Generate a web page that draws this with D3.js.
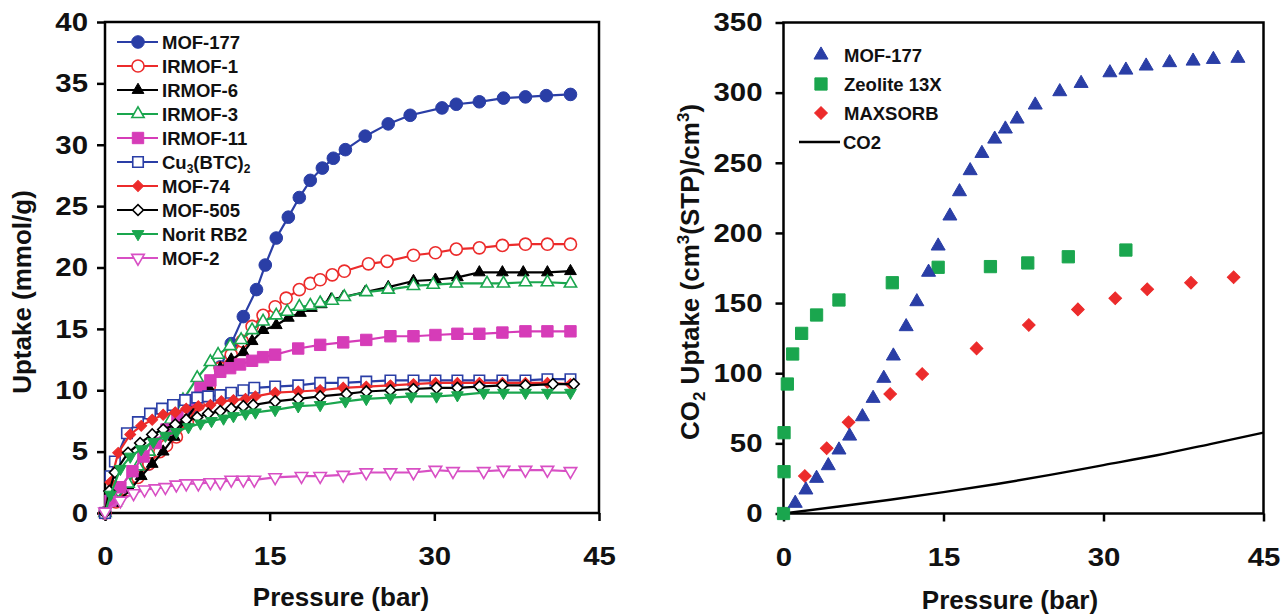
<!DOCTYPE html>
<html><head><meta charset="utf-8">
<script src="https://cdn.jsdelivr.net/npm/d3@7"></script>
<style>
body{margin:0;background:#fff}
text{font-family:'Liberation Sans',Arial,Helvetica,sans-serif;font-weight:bold;fill:#111}
</style>
</head><body>
<svg id="c" width="1284" height="616"></svg>
<script>
// ---------- Left panel data: [pressure (bar), uptake (mmol/g)] ----------
const mof177 = [[0,0],[2,1.9],[4,4.0],[6,6.2],[8,8.6],[10.5,11.9],[11.5,13.8],[12.6,16.0],[13.8,18.2],[14.6,20.2],[15.6,22.4],[16.7,24.1],[17.7,25.7],[18.7,27.1],[19.8,28.1],[20.8,28.9],[21.9,29.6],[23.7,30.7],[25.8,31.7],[27.8,32.4],[30.7,33.0],[32.0,33.3],[34.1,33.5],[36.3,33.8],[38.3,33.9],[40.2,34.0],[42.4,34.1]];
const irmof1 = [[0,0],[1,0.9],[2,1.9],[3,2.9],[4,4.0],[5,5.0],[5.6,5.5],[6.5,6.2],[7.5,7.4],[8.5,8.8],[9.5,10.3],[10.5,11.8],[11.5,12.9],[12.5,14.0],[13.4,15.2],[14.4,16.1],[15.5,16.8],[16.5,17.5],[17.7,18.2],[18.7,18.7],[19.6,19.0],[20.7,19.4],[21.8,19.7],[24.0,20.3],[25.7,20.5],[28.1,21.0],[30.1,21.2],[32.0,21.5],[34.1,21.6],[36.2,21.8],[38.3,21.9],[40.3,21.9],[42.4,21.9]];
const irmof6 = [[0,0],[1,0.8],[2.3,1.9],[3.3,3.0],[4.3,4.0],[5.3,5.0],[6.3,6.2],[7.3,7.5],[8.3,8.8],[9.4,10.3],[10.5,11.8],[11.5,12.5],[12.6,13.1],[13.4,14.0],[14.4,14.9],[15.6,15.3],[16.7,15.9],[17.8,16.3],[18.8,16.7],[19.7,17.0],[20.6,17.4],[21.7,17.6],[23.7,18.0],[25.8,18.4],[28.1,18.9],[30.1,19.0],[32.1,19.2],[34.1,19.6],[36.2,19.6],[38.1,19.6],[40.3,19.6],[42.4,19.7]];
const irmof3 = [[0,0],[1,1.0],[2.1,2.4],[3,3.8],[4,5.0],[5,6.3],[6,7.6],[7.1,9.2],[8.4,11.0],[9.6,12.3],[10.3,12.9],[11.4,13.6],[12.4,14.1],[13.4,14.9],[14.4,15.6],[15.6,16.1],[16.6,16.4],[17.7,16.8],[18.7,16.9],[19.6,17.1],[20.7,17.3],[21.8,17.6],[23.8,18.0],[25.8,18.2],[28.1,18.5],[29.9,18.6],[32.0,18.7],[34.8,18.7],[36.3,18.7],[38.3,18.8],[40.3,18.8],[42.4,18.7]];
const irmof11 = [[0,0],[0.5,1.0],[1.4,2.1],[2.5,3.4],[3.5,4.6],[4.6,5.7],[5.6,6.8],[6.6,7.9],[7.6,9.2],[8.7,10.2],[9.6,10.8],[10.5,11.5],[11.4,11.8],[12.3,12.1],[13.4,12.4],[14.4,12.7],[15.5,12.9],[17.6,13.4],[19.6,13.7],[21.7,13.9],[23.8,14.1],[26.0,14.4],[28.1,14.4],[30.1,14.5],[32.1,14.6],[34.1,14.6],[36.2,14.7],[38.3,14.8],[40.3,14.8],[42.4,14.8]];
const cu3btc2 = [[0,0],[0.5,3.0],[0.9,4.2],[2.0,6.5],[3.0,7.4],[4.1,8.1],[5.2,8.5],[6.2,8.8],[7.3,9.2],[8.4,9.4],[9.4,9.5],[10.5,9.6],[11.5,9.8],[12.6,10.0],[13.6,10.2],[15.5,10.3],[17.6,10.4],[19.6,10.6],[21.7,10.6],[23.8,10.7],[26.0,10.8],[28.1,10.8],[30.1,10.8],[32.1,10.8],[34.1,10.8],[36.2,10.8],[38.3,10.8],[40.3,10.9],[42.4,10.9]];
const mof74 = [[0,0],[0.5,2.5],[1.2,4.9],[2.3,6.4],[3.3,7.1],[4.3,7.6],[5.3,8.0],[6.4,8.2],[7.4,8.5],[8.5,8.7],[9.6,8.8],[10.6,9.1],[11.7,9.2],[12.8,9.3],[13.7,9.5],[15.5,9.8],[17.6,9.9],[19.6,10.0],[21.7,10.2],[23.8,10.3],[26.0,10.4],[28.1,10.5],[30.1,10.6],[32.1,10.6],[34.1,10.6],[36.2,10.6],[38.3,10.6],[40.3,10.6],[42.4,10.5]];
const mof505 = [[0,0],[0.4,1.8],[0.9,3.3],[2.1,4.9],[3.2,5.7],[4.3,6.4],[5.3,6.8],[6.4,7.2],[7.4,7.6],[8.4,7.8],[9.4,8.1],[10.5,8.3],[11.5,8.5],[12.6,8.7],[13.5,8.8],[15.5,9.1],[17.6,9.3],[19.6,9.5],[22.0,9.7],[23.8,9.9],[26.0,10.0],[28.1,10.1],[30.2,10.2],[32.1,10.2],[34.1,10.3],[36.2,10.4],[38.3,10.4],[40.8,10.5],[42.7,10.5]];
const noritRB2 = [[0,0],[0.5,1.5],[1.4,3.6],[2.3,4.6],[3.3,5.2],[4.4,5.8],[5.5,6.3],[6.5,6.6],[7.6,7.0],[8.7,7.3],[9.7,7.5],[10.8,7.7],[11.7,7.9],[12.8,8.1],[13.7,8.2],[15.5,8.4],[17.6,8.7],[19.6,8.8],[21.9,9.1],[23.8,9.3],[26.0,9.4],[27.9,9.5],[30.2,9.5],[32.1,9.6],[34.5,9.8],[36.3,9.8],[38.3,9.8],[40.3,9.8],[42.4,9.8]];
const mof2 = [[0,0.1],[1.4,1.0],[2.6,1.6],[3.6,1.9],[4.6,2.0],[5.5,2.1],[6.5,2.3],[7.4,2.4],[8.5,2.4],[9.6,2.5],[10.5,2.5],[11.5,2.7],[12.6,2.7],[13.6,2.7],[15.5,2.9],[17.9,3.0],[19.6,3.0],[21.7,3.1],[23.8,3.3],[26.0,3.3],[28.1,3.3],[30.1,3.5],[31.7,3.4],[34.5,3.4],[36.3,3.5],[38.3,3.5],[40.3,3.5],[42.4,3.4]];

const leftNames = ["MOF-177","IRMOF-1","IRMOF-6","IRMOF-3","IRMOF-11","Cu3(BTC)2","MOF-74","MOF-505","Norit RB2","MOF-2"];
const leftXTicks = [0,15,30,45];
const leftYTicks = [0,5,10,15,20,25,30,35,40];

// ---------- Right panel data: [pressure (bar), CO2 uptake (cm3(STP)/cm3)] ----------
const mof177CO2 = [[1.1,7.3],[2.1,16.8],[3.1,25.1],[4.2,34.1],[5.2,45.3],[6.2,55.2],[7.4,69.0],[8.4,82.1],[9.4,96.4],[10.3,112.3],[11.5,133.2],[12.5,151.0],[13.6,172.0],[14.5,190.7],[15.6,212.1],[16.5,229.4],[17.5,244.4],[18.6,256.7],[19.8,266.9],[20.8,274.1],[21.9,281.2],[23.6,291.2],[25.9,300.7],[27.9,306.6],[30.6,314.2],[32.1,316.1],[34.0,319.0],[36.2,321.4],[38.4,322.5],[40.3,323.7],[42.6,324.5]];
const zeolite13X = [[0,0],[0.05,29.8],[0.05,57.6],[0.36,92.3],[0.86,113.7],[1.7,128.4],[3.1,141.5],[5.2,152.2],[10.2,164.5],[14.5,175.5],[19.4,176.0],[22.9,178.6],[26.7,183.0],[32.1,187.8]];
const maxsorb = [[2.0,26.7],[4.05,46.5],[6.1,65.0],[10.0,85.2],[13.0,99.4],[18.1,117.7],[23.0,134.4],[27.6,145.5],[31.1,153.4],[34.1,159.8],[38.2,164.5],[42.2,168.4]];
const co2Pressure = [0,5,10,15,20,25,30,35,40,45];
const co2Density = [0,4.8,9.8,15.2,21.0,27.5,34.5,41.5,49.5,57.6];
const rightNames = ["MOF-177","Zeolite 13X","MAXSORB","CO2"];
const rightXTicks = [0,15,30,45];
const rightYTicks = [0,50,100,150,200,250,300,350];

// ---------- drawing ----------
const svg = d3.select("#c");
const BLUE="#2a3ea6", RED="#ec2b2b", BLACK="#000", GREEN="#1aa64e", MAG="#d63cb8", PINK="#d84fc4";

const xL = d3.scaleLinear().domain([0,45]).range([105,599]);
const yL = d3.scaleLinear().domain([0,40]).range([513,22]);
const xR = d3.scaleLinear().domain([0,45]).range([783.5,1263.5]);
const yR = d3.scaleLinear().domain([0,350]).range([513.5,22.5]);

function axes(x, y, xt, yt, ypad){
  const gx = svg.append("g").attr("transform",`translate(0,${y.range()[0]})`)
    .call(d3.axisBottom(x).tickValues(xt).tickSize(8).tickSizeOuter(0).tickPadding(26));
  const gy = svg.append("g").attr("transform",`translate(${x.range()[0]},0)`)
    .call(d3.axisLeft(y).tickValues(yt).tickSize(8).tickSizeOuter(0).tickPadding(ypad));
  [gx,gy].forEach(g=>{
    g.selectAll("path.domain").remove();
    g.selectAll(".tick line").attr("stroke","#000").attr("stroke-width",2.5);
    g.selectAll(".tick text").attr("font-size",26).attr("fill","#111")
      .attr("font-family","'Liberation Sans',Arial,sans-serif").attr("font-weight","bold")
      .each(function(){
        const L = this.getComputedTextLength();
        d3.select(this).attr("textLength", L*1.13).attr("lengthAdjust","spacingAndGlyphs");
      });
  });
  svg.append("rect").attr("x",x.range()[0]).attr("y",y.range()[1])
    .attr("width",x.range()[1]-x.range()[0]).attr("height",y.range()[0]-y.range()[1])
    .attr("fill","none").attr("stroke","#000").attr("stroke-width",2.5);
}

const symMap = {circle:d3.symbolCircle, tri:d3.symbolTriangle, square:d3.symbolSquare, diamond:d3.symbolSquare, down:d3.symbolTriangle};
function marker(g, type, size, color, filled, x, y){
  const rot = type==="down" ? " rotate(180)" : (type==="diamond" ? " rotate(45)" : "");
  g.append("path").attr("d", d3.symbol().type(symMap[type]).size(size)())
    .attr("transform",`translate(${x},${y})${rot}`)
    .attr("fill", filled?color:"#fff").attr("stroke", color).attr("stroke-width", filled?1:1.6);
}

axes(xL,yL,leftXTicks,leftYTicks,9);
axes(xR,yR,rightXTicks,rightYTicks,13);

// left series
const leftSeries = [
  {d:mof177, c:BLUE, t:"circle", f:true, s:125},
  {d:irmof1, c:RED, t:"circle", f:false, s:115},
  {d:irmof6, c:BLACK, t:"tri", f:true, s:60},
  {d:irmof3, c:GREEN, t:"tri", f:false, s:65},
  {d:irmof11, c:MAG, t:"square", f:true, s:130},
  {d:cu3btc2, c:BLUE, t:"square", f:false, s:110},
  {d:mof74, c:RED, t:"diamond", f:true, s:60},
  {d:mof505, c:BLACK, t:"diamond", f:false, s:60},
  {d:noritRB2, c:GREEN, t:"down", f:true, s:60},
  {d:mof2, c:PINK, t:"down", f:false, s:68}
];
const lineL = d3.line().x(d=>xL(d[0])).y(d=>yL(d[1]));
const gL = svg.append("g");
leftSeries.forEach(s=>{
  const g = gL.append("g");
  g.append("path").attr("d",lineL(s.d)).attr("fill","none").attr("stroke",s.c).attr("stroke-width",2.2);
  s.d.forEach(p=>marker(g,s.t,s.s,s.c,s.f,xL(p[0]),yL(p[1])));
});

// left legend
leftSeries.forEach((s,i)=>{
  const y = 42 + i*24;
  const g = svg.append("g");
  g.append("line").attr("x1",117).attr("x2",158).attr("y1",y).attr("y2",y).attr("stroke",s.c).attr("stroke-width",2.2);
  marker(g,s.t,s.s,s.c,s.f,138,y);
  const t = g.append("text").attr("x",162).attr("y",y+6.5).attr("font-size",18.5);
  const nm = leftNames[i];
  if(nm==="Cu3(BTC)2"){
    t.append("tspan").text("Cu");
    t.append("tspan").attr("font-size",12).attr("dy",4).text("3");
    t.append("tspan").attr("dy",-4).text("(BTC)");
    t.append("tspan").attr("font-size",12).attr("dy",4).text("2");
  } else t.text(nm);
});

// right series
const gR = svg.append("g");
const lineR = d3.line().x(d=>xR(d[0])).y(d=>yR(d[1])).curve(d3.curveMonotoneX);
gR.append("path").attr("d", lineR(co2Pressure.map((p,i)=>[p,co2Density[i]])))
  .attr("fill","none").attr("stroke","#000").attr("stroke-width",2.4);
zeolite13X.forEach(p=>marker(gR,"square",150,GREEN,true,xR(p[0]),yR(p[1])));
maxsorb.forEach(p=>marker(gR,"diamond",80,RED,true,xR(p[0]),yR(p[1])));
mof177CO2.forEach(p=>marker(gR,"tri",85,BLUE,true,xR(p[0]),yR(p[1])));

// right legend
const rl = [{t:"tri",c:BLUE,s:85},{t:"square",c:GREEN,s:150},{t:"diamond",c:RED,s:80}];
rl.forEach((m,i)=>{
  const y = 55 + i*29;
  marker(svg,m.t,m.s,m.c,true,821,y);
  svg.append("text").attr("x",844).attr("y",y+6.5).attr("font-size",18.5).text(rightNames[i]);
});
svg.append("line").attr("x1",799).attr("x2",840).attr("y1",142).attr("y2",142).attr("stroke","#000").attr("stroke-width",2.4);
svg.append("text").attr("x",843).attr("y",148.5).attr("font-size",18.5).text(rightNames[3]);

// axis titles
svg.append("text").attr("x",341).attr("y",606).attr("text-anchor","middle").attr("font-size",26).text("Pressure (bar)");
svg.append("text").attr("x",1010).attr("y",609).attr("text-anchor","middle").attr("font-size",26).text("Pressure (bar)");
svg.append("text").attr("transform","translate(31,292) rotate(-90)").attr("text-anchor","middle").attr("font-size",26).text("Uptake (mmol/g)");
const yt = svg.append("text").attr("transform","translate(699,272) rotate(-90)").attr("text-anchor","middle").attr("font-size",26);
yt.append("tspan").text("CO");
yt.append("tspan").attr("font-size",17).attr("dy",6).text("2");
yt.append("tspan").attr("dy",-6).text(" Uptake (cm");
yt.append("tspan").attr("font-size",17).attr("dy",-10).text("3");
yt.append("tspan").attr("dy",10).text("(STP)/cm");
yt.append("tspan").attr("font-size",17).attr("dy",-10).text("3");
yt.append("tspan").attr("dy",10).text(")");
</script>
</body></html>
